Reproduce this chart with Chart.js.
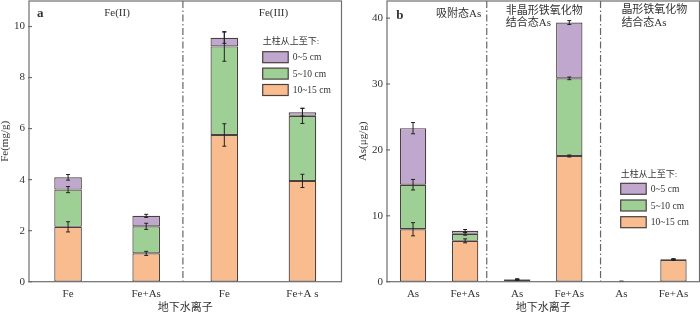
<!DOCTYPE html>
<html lang="zh">
<head>
<meta charset="UTF-8">
<title>土柱 Fe 与 As 分布</title>
<script src="https://cdn.jsdelivr.net/npm/chart.js"></script>
<style>
  body { margin: 0; width: 700px; height: 314px; background: #fff; overflow: hidden; }
  .wrap { position: absolute; top: 0; width: 350px; height: 314px; }
  #boxA { left: 0; }
  #boxB { left: 350px; }
</style>
</head>
<body>
<div class="wrap" id="boxA"><canvas id="chartA"></canvas></div>
<div class="wrap" id="boxB"><canvas id="chartB"></canvas></div>
<script>
// 图 a：Fe 含量 (mg/g)，每层为分段值
const catsA = ['Fe', 'Fe+As', 'Fe', 'Fe+A s'];
const a_10_15 = [2.15, 1.11, 5.75, 3.95];
const a_5_10  = [1.46, 1.06, 3.47, 2.55];
const a_0_5   = [0.48, 0.41, 0.34, 0.14];
const aErr_10_15 = [0.20, 0.08, 0.44, 0.26];
const aErr_5_10  = [0.12, 0.12, 0.58, 0.30];
const aErr_0_5   = [0.11, 0.06, 0.22, 0.15];
const yTicksA = [0, 2, 4, 6, 8, 10];

// 图 b：As 含量 (μg/g)
const catsB = ['As', 'Fe+As', 'As', 'Fe+As', 'As', 'Fe+As'];
const b_10_15 = [7.96, 6.20, 0.25, 19.08, 0.03, 3.30];
const b_5_10  = [6.76, 1.06, 0.08, 11.78, 0.01, 0.10];
const b_0_5   = [8.58, 0.46, 0.07, 8.47, 0.01, 0.05];
const bErr_10_15 = [1.00, 0.30, 0.05, 0.15, 0.01, 0.05];
const bErr_5_10  = [0.80, 0.20, 0.03, 0.20, 0.01, 0.03];
const bErr_0_5   = [0.85, 0.20, 0.03, 0.30, 0.01, 0.03];
const yTicksB = [0, 10, 20, 30, 40];

const layerNames = ['10~15 cm', '5~10 cm', '0~5 cm'];
const layerColors = ['#f9bc8e', '#9ecf95', '#c0a7cd'];

const SERIF = '"Liberation Serif", "Noto Sans CJK SC", serif';
const TXT = '#333';
const EDGE = '#4a3f3f';
const FRAME = '#6e6e6e';

// 误差棒、边框、分隔线、组标签、图例
const decor = {
  id: 'decor',
  beforeDatasetsDraw(chart, args, o) {
    const ctx = chart.ctx, xs = chart.scales.x, area = chart.chartArea;
    const x0 = xs.getPixelForValue(0), step = xs.getPixelForValue(1) - x0;
    ctx.save();
    ctx.strokeStyle = '#666';
    ctx.lineWidth = 1.2;
    ctx.setLineDash([7, 2.5, 1.5, 2.5]);
    o.dividers.forEach(u => {
      const x = x0 + u * step;
      ctx.beginPath();
      ctx.moveTo(x, area.top);
      ctx.lineTo(x, area.bottom);
      ctx.stroke();
    });
    ctx.restore();
  },
  afterDatasetsDraw(chart, args, o) {
    const ctx = chart.ctx, xs = chart.scales.x, ys = chart.scales.y, area = chart.chartArea;
    ctx.save();
    // 误差棒
    ctx.strokeStyle = '#222';
    ctx.lineWidth = 1;
    chart.data.datasets.forEach((ds, d) => {
      const meta = chart.getDatasetMeta(d);
      meta.data.forEach((bar, i) => {
        const e = o.errors[d][i];
        const top = ys.getPixelForValue(ys.getValueForPixel(bar.y) + e);
        const bot = ys.getPixelForValue(ys.getValueForPixel(bar.y) - e);
        ctx.beginPath();
        ctx.moveTo(bar.x, top); ctx.lineTo(bar.x, bot);
        ctx.moveTo(bar.x - 2, top); ctx.lineTo(bar.x + 2, top);
        ctx.moveTo(bar.x - 2, bot); ctx.lineTo(bar.x + 2, bot);
        ctx.stroke();
      });
    });
    // 边框和刻度
    ctx.strokeStyle = FRAME;
    ctx.lineWidth = 1.2;
    ctx.strokeRect(area.left, area.top, area.right - area.left, area.bottom - area.top);
    o.yTicks.forEach(v => {
      const y = ys.getPixelForValue(v);
      ctx.beginPath();
      ctx.moveTo(area.left - 1, y); ctx.lineTo(area.left + 3, y);
      ctx.stroke();
    });
    // 组标签
    const x0 = xs.getPixelForValue(0), step = xs.getPixelForValue(1) - x0;
    ctx.fillStyle = TXT;
    ctx.textBaseline = 'middle';
    o.labels.forEach(l => {
      ctx.font = (l.bold ? 'bold ' : '') + l.size + 'px ' + SERIF;
      ctx.textAlign = l.align || 'center';
      ctx.fillText(l.text, x0 + l.u * step, l.y);
    });
    // 图例
    const lg = o.legend;
    ctx.font = '9px ' + SERIF;
    ctx.textAlign = 'left';
    ctx.fillText('土柱从上至下:', lg.x, lg.y);
    const order = chart.data.datasets.slice().reverse();
    order.forEach((ds, k) => {
      const by = lg.boxTop + k * lg.gap;
      ctx.fillStyle = ds.backgroundColor;
      ctx.fillRect(lg.x, by, 25.5, 11);
      ctx.strokeStyle = EDGE;
      ctx.lineWidth = 1.2;
      ctx.strokeRect(lg.x, by, 25.5, 11);
      ctx.fillStyle = TXT;
      ctx.font = '9.5px ' + SERIF;
      ctx.fillText(ds.label, lg.x + 30, by + 6);
    });
    ctx.restore();
  }
};

function makeChart(id, cats, series, errors, cfg) {
  return new Chart(document.getElementById(id), {
    type: 'bar',
    data: {
      labels: cats,
      datasets: series.map((s, k) => ({
        label: layerNames[k],
        data: s,
        backgroundColor: layerColors[k],
        borderColor: EDGE,
        borderWidth: 1.2,
        borderSkipped: false,
        barPercentage: cfg.barPct,
        categoryPercentage: 1
      }))
    },
    options: {
      responsive: true,
      maintainAspectRatio: false,
      animation: false,
      layout: { padding: cfg.padding },
      plugins: {
        legend: { display: false },
        tooltip: { enabled: false },
        decor: {
          errors: errors,
          yTicks: cfg.yTicks,
          dividers: cfg.dividers,
          labels: cfg.labels,
          legend: cfg.legend
        }
      },
      scales: {
        x: {
          stacked: true,
          afterFit: s => { s.height = 32.3; },
          grid: { display: false, drawTicks: false },
          border: { display: false },
          ticks: { color: TXT, font: { family: SERIF, size: 11 }, padding: 6, maxRotation: 0, autoSkip: false },
          title: { display: true, text: '地下水离子', color: TXT, font: { family: SERIF, size: 11, lineHeight: 1 }, padding: { top: -1, bottom: 0 } }
        },
        y: {
          stacked: true,
          min: 0,
          max: cfg.yMax,
          afterFit: s => { s.width = cfg.yWidth; s.paddingTop = 0; s.paddingBottom = 0; },
          afterBuildTicks: s => { s.ticks = cfg.yTicks.map(v => ({ value: v })); },
          grid: { display: false, drawTicks: false },
          border: { display: false },
          ticks: { color: TXT, font: { family: SERIF, size: 11 }, padding: 4 },
          title: { display: true, text: cfg.yTitle, color: TXT, font: { family: SERIF, size: 11, lineHeight: 1 }, padding: cfg.yTitlePad }
        }
      }
    },
    plugins: [decor]
  });
}

makeChart('chartA', catsA, [a_10_15, a_5_10, a_0_5], [aErr_10_15, aErr_5_10, aErr_0_5], {
  barPct: 0.353,
  padding: { top: 1, right: 8.5, left: 0, bottom: 0 },
  yMax: 11,
  yTicks: yTicksA,
  yWidth: 29,
  yTitle: 'Fe(mg/g)',
  yTitlePad: { top: 0, bottom: 0 },
  dividers: [1.47],
  labels: [
    { text: 'a', u: -0.355, y: 13.5, size: 13, bold: true },
    { text: 'Fe(II)', u: 0.626, y: 13.5, size: 11 },
    { text: 'Fe(III)', u: 2.63, y: 13.5, size: 11 }
  ],
  legend: { x: 262.7, y: 41.2, boxTop: 51.7, gap: 16.4 }
});

makeChart('chartB', catsB, [b_10_15, b_5_10, b_0_5], [bErr_10_15, bErr_5_10, bErr_0_5], {
  barPct: 0.506,
  padding: { top: 1, right: 0.5, left: 0, bottom: 0 },
  yMax: 42.6,
  yTicks: yTicksB,
  yWidth: 37,
  yTitle: 'As(μg/g)',
  yTitlePad: { top: 8, bottom: 0 },
  dividers: [1.415, 3.6],
  labels: [
    { text: 'b', u: -0.255, y: 15.5, size: 13, bold: true },
    { text: '吸附态As', u: 0.874, y: 14, size: 11 },
    { text: '非晶形铁氧化物', u: 1.78, y: 10.7, size: 11, align: 'left' },
    { text: '结合态As', u: 1.78, y: 23.5, size: 11, align: 'left' },
    { text: '晶形铁氧化物', u: 4.0, y: 10.5, size: 11, align: 'left' },
    { text: '结合态As', u: 4.0, y: 23.5, size: 11, align: 'left' }
  ],
  legend: { x: 270.7, y: 174.3, boxTop: 183.3, gap: 16.7 }
});
</script>
</body>
</html>
